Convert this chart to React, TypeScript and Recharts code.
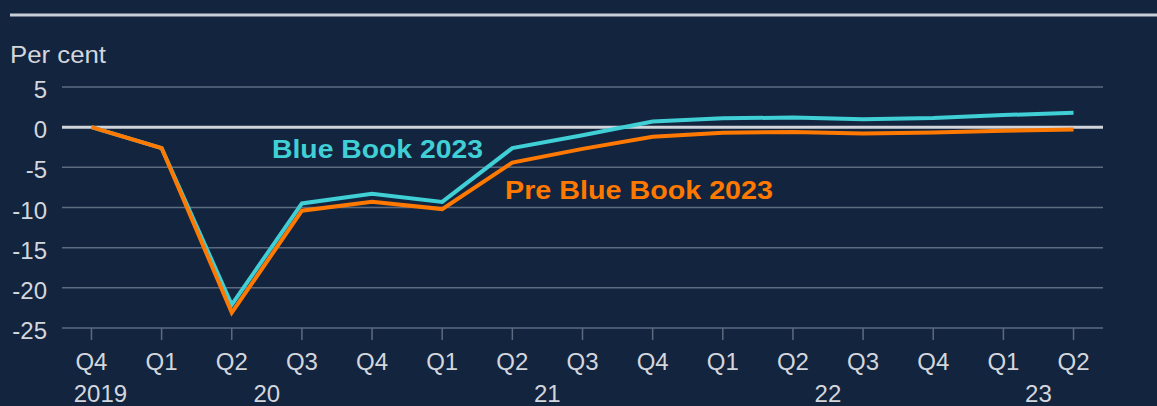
import React from 'react'
import { LineChart, Line, XAxis, YAxis, CartesianGrid, ReferenceLine } from 'recharts'

const quarters = ['Q4', 'Q1', 'Q2', 'Q3', 'Q4', 'Q1', 'Q2', 'Q3', 'Q4', 'Q1', 'Q2', 'Q3', 'Q4', 'Q1', 'Q2']
const years: Record<number, string> = { 0: '2019', 2: '20', 6: '21', 10: '22', 13: '23' }
const blueBook2023 = [0, -2.6, -22.1, -9.5, -8.3, -9.3, -2.6, -1.0, 0.7, 1.1, 1.2, 1.0, 1.15, 1.5, 1.8]
const preBlueBook2023 = [0, -2.6, -23.1, -10.4, -9.3, -10.2, -4.4, -2.7, -1.2, -0.7, -0.6, -0.8, -0.65, -0.45, -0.3]
const yTicks = [5, 0, -5, -10, -15, -20, -25]

const BG = '#13243f'
const TEXT = '#d3d7dd'
const GRID = '#5d6b80'
const CYAN = '#3fcfd5'
const ORANGE = '#ff7900'
const FONT = '"Liberation Sans", Arial, sans-serif'

const data = quarters.map((q, i) => ({
  i,
  q,
  blue: blueBook2023[i],
  pre: preBlueBook2023[i]
}))

const XTick = (props: any) => {
  const { x, payload } = props
  const idx = payload.value as number
  const year = years[idx]
  return (
    <g>
      <text x={x} y={370} textAnchor="middle" fill={TEXT} fontSize={24} fontFamily={FONT}>
        {quarters[idx]}
      </text>
      {year && (
        <text x={x + (idx === 0 ? 9 : 35)} y={402} textAnchor="middle" fill={TEXT} fontSize={24} fontFamily={FONT}>
          {year}
        </text>
      )}
    </g>
  )
}

const makeYTick = (ax: number) => (props: any) => {
  const { y, payload } = props
  return (
    <text x={ax} y={y + 11} textAnchor="end" fill={TEXT} fontSize={24} fontFamily={FONT}>
      {payload.value}
    </text>
  )
}

export default function App() {
  return (
    <div style={{ position: 'absolute', left: 0, top: 0, width: 1157, height: 406, background: BG }}>
      <LineChart
        width={1157}
        height={406}
        data={data}
        margin={{ top: 87, right: 0, left: 0, bottom: 0 }}
      >
        <CartesianGrid vertical={false} stroke={GRID} strokeWidth={1.5} />
        <XAxis
          dataKey="i"
          type="number"
          domain={[-0.42, 14.42]}
          ticks={quarters.map((_, i) => i)}
          height={78}
          axisLine={false}
          tickLine={{ stroke: GRID, strokeWidth: 1.5 }}
          tickSize={12}
          tick={<XTick />}
          interval={0}
        />
        <YAxis
          domain={[-25, 5]}
          ticks={yTicks}
          width={62}
          axisLine={false}
          tickLine={false}
          tick={makeYTick(47)}
        />
        <YAxis
          yAxisId="r"
          orientation="right"
          domain={[-25, 5]}
          ticks={yTicks}
          width={54}
          axisLine={false}
          tickLine={false}
          tick={makeYTick(1155)}
        />
        <ReferenceLine y={0} stroke="#d0d4da" strokeWidth={3} />
        <Line dataKey="blue" stroke={CYAN} strokeWidth={4} dot={false} isAnimationActive={false} />
        <Line dataKey="pre" stroke={ORANGE} strokeWidth={4} dot={false} isAnimationActive={false} />
      </LineChart>
      <svg
        width={1157}
        height={406}
        style={{ position: 'absolute', left: 0, top: 0, pointerEvents: 'none' }}
      >
        <line x1={10} y1={15} x2={1157} y2={15} stroke="#c9cfd7" strokeWidth={3} />
        <text x={10} y={63} fill={TEXT} fontSize={24} fontFamily={FONT} textLength={96} lengthAdjust="spacingAndGlyphs">Per cent</text>
        <text x={272} y={158} fill={CYAN} fontSize={26} fontWeight="bold" fontFamily={FONT} textLength={211} lengthAdjust="spacingAndGlyphs">Blue Book 2023</text>
        <text x={505} y={199} fill={ORANGE} fontSize={26} fontWeight="bold" fontFamily={FONT} textLength={268} lengthAdjust="spacingAndGlyphs">Pre Blue Book 2023</text>
      </svg>
    </div>
  )
}
